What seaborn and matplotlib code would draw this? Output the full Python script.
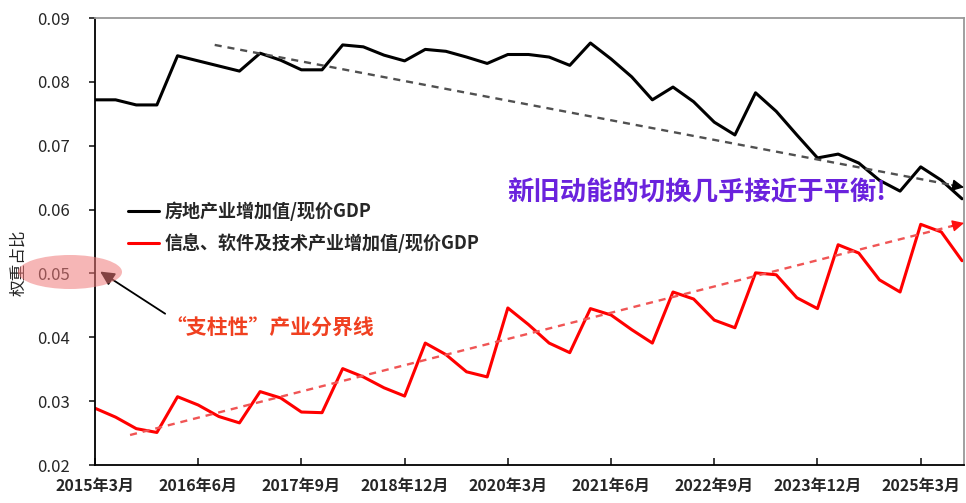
import numpy as np
import pandas as pd
import matplotlib
matplotlib.use('Agg')
import matplotlib.pyplot as plt
from matplotlib.patches import Ellipse
import seaborn as sb

# quarterly ratios, 2015Q1 .. 2025Q3
black = [0.0772, 0.0772, 0.0764, 0.0764, 0.0841, 0.0833, 0.0825, 0.0817, 0.0845, 0.0834,
         0.0819, 0.0819, 0.0858, 0.0855, 0.0842, 0.0833, 0.0851, 0.0848, 0.0839, 0.0829,
         0.0843, 0.0843, 0.0839, 0.0826, 0.0861, 0.0836, 0.0808, 0.0772, 0.0792, 0.0769,
         0.0737, 0.0717, 0.0783, 0.0754, 0.0717, 0.0681, 0.0687, 0.0673, 0.0646, 0.0629,
         0.0667, 0.0646, 0.0617]
red = [0.0289, 0.0275, 0.0257, 0.0251, 0.0307, 0.0294, 0.0276, 0.0266, 0.0315, 0.0305,
       0.0283, 0.0282, 0.0351, 0.0338, 0.0321, 0.0308, 0.0391, 0.0373, 0.0346, 0.0338,
       0.0446, 0.0420, 0.0391, 0.0376, 0.0445, 0.0435, 0.0412, 0.0391, 0.0471, 0.0460,
       0.0427, 0.0415, 0.0501, 0.0498, 0.0462, 0.0445, 0.0545, 0.0532, 0.0490, 0.0471,
       0.0577, 0.0565, 0.0520]
names = ['房地产业增加值/现价GDP', '信息、软件及技术产业增加值/现价GDP']
tick_pos = [0, 5, 10, 15, 20, 25, 30, 35, 40]
tick_labels = ['2015年3月', '2016年6月', '2017年9月', '2018年12月', '2020年3月',
               '2021年6月', '2022年9月', '2023年12月', '2025年3月']
yticks = [0.02, 0.03, 0.04, 0.05, 0.06, 0.07, 0.08, 0.09]

# hand drawn trend arrows (start, end)
trend_black_x = [5.8, 41.6]
trend_black_y = [0.0858, 0.0638]
trend_red_x = [1.7, 41.6]
trend_red_y = [0.0247, 0.0575]

sb.set_theme(style='white')
plt.rcParams['font.family'] = ['Noto Sans CJK SC', 'DejaVu Sans']
plt.rcParams['axes.unicode_minus'] = False

n = len(black)
df = pd.DataFrame({'idx': list(range(n)) * 2,
                   'value': black + red,
                   'series': [names[0]] * n + [names[1]] * n})

fig = plt.figure(figsize=(9.66, 5.03), dpi=100)
ax = fig.add_axes([0.0983, 0.0755, 0.8997, 0.8885])

sb.lineplot(data=df, x='idx', y='value', hue='series', palette=['black', '#ff0000'],
            linewidth=2.2, ax=ax)


def arrow_head(x, y, color):
    # small filled head at the end of a dashed trend line
    dx = x[1] - x[0]
    dy = y[1] - y[0]
    f = 0.5 / dx
    ax.annotate('', xy=(x[1] + dx * f, y[1] + dy * f),
                xytext=(x[1] - dx * f * 0.2, y[1] - dy * f * 0.2),
                annotation_clip=False,
                arrowprops=dict(arrowstyle='-|>,head_length=0.7,head_width=0.35',
                                color=color, lw=1.0, shrinkA=0, shrinkB=0,
                                mutation_scale=10))


ax.plot(trend_black_x, trend_black_y, color='#505050', lw=1.7, ls=(0, (3, 2.5)))
arrow_head(trend_black_x, trend_black_y, 'black')
ax.plot(trend_red_x, trend_red_y, color='#f05555', lw=1.7, ls=(0, (3, 2.5)))
arrow_head(trend_red_x, trend_red_y, '#ff1010')

ax.set_xlim(0, 42.1)
ax.set_ylim(0.02, 0.09)
ax.set_xticks(tick_pos)
ax.set_xticklabels(tick_labels, fontsize=11.5, weight='bold')
ax.set_yticks(yticks)
ax.set_yticklabels(['%.2f' % v for v in yticks], fontsize=12)
ax.tick_params(axis='x', direction='in', length=5, pad=9, bottom=True)
ax.tick_params(axis='y', direction='out', length=4, pad=14, left=True)
ax.set_xlabel('')
ax.set_ylabel('')
fig.text(0.019, 0.478, '权重占比', rotation=90, fontsize=12, ha='center', va='center')

for s in ['left', 'bottom']:
    ax.spines[s].set_color('black')
    ax.spines[s].set_linewidth(1.3)
for s in ['top', 'right']:
    ax.spines[s].set_color('#999999')
    ax.spines[s].set_linewidth(1.3)

leg = ax.legend(loc='upper left', bbox_to_anchor=(0.03, 0.605), frameon=False,
                fontsize=13, handlelength=1.7, handletextpad=0.3, labelspacing=0.65,
                borderaxespad=0)
for t in leg.get_texts():
    t.set_weight('bold')

ax.text(0.475, 0.61, '新旧动能的切换几乎接近于平衡!', transform=ax.transAxes,
        fontsize=19, weight='bold', color='#6a22dd', ha='left', va='center')

# pillar industry marker
ell = Ellipse((70 / 966, 1 - 272 / 503), 104 / 966, 34 / 503, transform=fig.transFigure,
              facecolor='#f07a7a', alpha=0.55, edgecolor='none', zorder=5)
fig.patches.append(ell)
ax.annotate('', xy=(0.25, 0.0503), xytext=(3.4, 0.0437),
            arrowprops=dict(arrowstyle='-|>,head_length=0.6,head_width=0.3',
                            color='black', lw=1.3, mutation_scale=14, shrinkA=0, shrinkB=0))
ax.text(3.4, 0.0414, '“支柱性”产业分界线', fontsize=15, weight='bold', color='#f04020',
        ha='left', va='center')

fig.savefig('out.png', dpi=100)
